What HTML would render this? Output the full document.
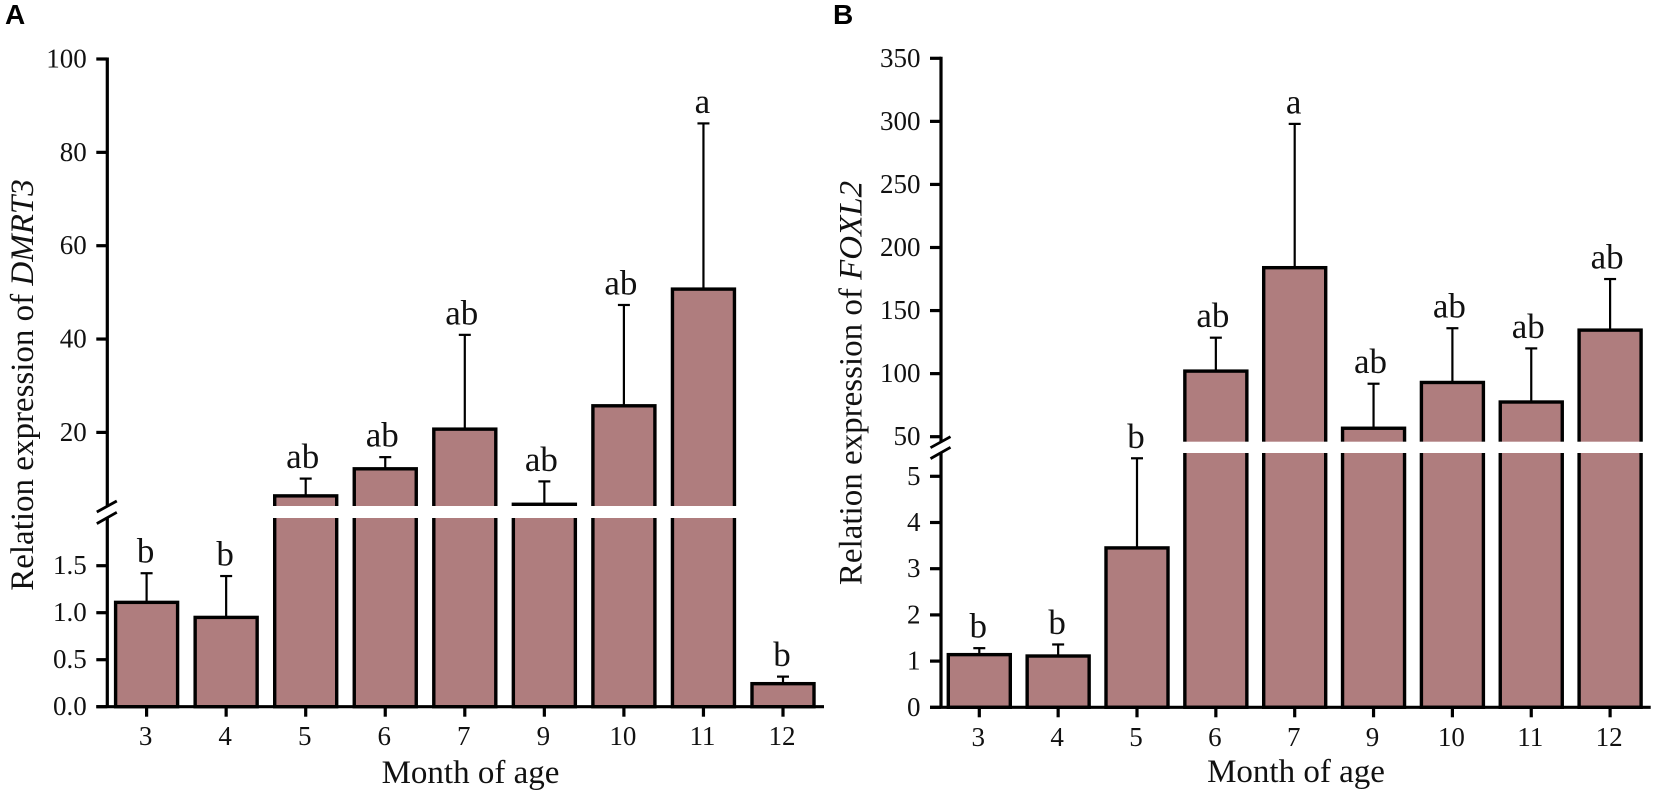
<!DOCTYPE html>
<html lang="en">
<head>
<meta charset="utf-8">
<title>Relative expression of DMRT3 and FOXL2 by month of age</title>
<style>
  html, body { margin: 0; padding: 0; background: #fff; }
  body { width: 1654px; height: 794px; overflow: hidden; }
  svg { display: block; filter: blur(0.35px); }
  text { font-family: "Liberation Serif", serif; fill: #111; }
  .panel-letter { font-family: "Liberation Sans", sans-serif; font-weight: 700; font-size: 28px; fill: #000; }
  .tick { font-size: 27px; }
  .title { font-size: 33px; }
  .sig { font-size: 35px; text-anchor: middle; }
</style>
</head>
<body>
<svg id="figure" xmlns="http://www.w3.org/2000/svg" width="1654" height="794" viewBox="0 0 1654 794">
  <rect width="1654" height="794" fill="#fff"/>
  <text class="panel-letter" x="5" y="24">A</text>
  <text class="panel-letter" x="833" y="24">B</text>
  <text class="title" transform="translate(33 385) rotate(-90)" text-anchor="middle">Relation expression of <tspan font-style="italic">DMRT3</tspan></text>
  <text class="title" transform="translate(861.7 383) rotate(-90)" text-anchor="middle">Relation expression of <tspan font-style="italic">FOXL2</tspan></text>
  <text class="title" x="470.5" y="783" text-anchor="middle">Month of age</text>
  <text class="title" x="1296" y="782" text-anchor="middle">Month of age</text>
</svg>
<script>
// Panel A data (DMRT3)
const monthsA = ["3", "4", "5", "6", "7", "9", "10", "11", "12"];
const valuesA = [1.11, 0.95, 6.4, 12.2, 20.7, 4.6, 25.7, 50.7, 0.245];
const errorTopsA = [1.42, 1.39, 10.1, 14.7, 40.9, 9.5, 47.3, 86.2, 0.32];
const lettersA = ["b", "b", "ab", "ab", "ab", "ab", "ab", "a", "b"];
const lowerTicksA = ["0.0", "0.5", "1.0", "1.5"];
const upperTicksA = ["20", "40", "60", "80", "100"];

// Panel B data (FOXL2)
const monthsB = ["3", "4", "5", "6", "7", "9", "10", "11", "12"];
const valuesB = [1.14, 1.11, 3.45, 102, 184, 56.7, 93, 77.5, 134.5];
const errorTopsB = [1.28, 1.36, 5.39, 128.5, 298, 92, 136, 120, 175];
const lettersB = ["b", "b", "b", "ab", "a", "ab", "ab", "ab", "ab"];
const lowerTicksB = ["0", "1", "2", "3", "4", "5"];
const upperTicksB = ["50", "100", "150", "200", "250", "300", "350"];

const SVG_NS = "http://www.w3.org/2000/svg";
const figure = document.getElementById("figure");
const BAR_FILL = "#af7d7e";
const INK = "#000";

function make(tag, attrs, parent) {
  const el = document.createElementNS(SVG_NS, tag);
  for (const key in attrs) el.setAttribute(key, attrs[key]);
  parent.appendChild(el);
  return el;
}

function drawPanel(p) {
  const group = make("g", {}, figure);
  
  

  // piecewise y axis functions
  const lowerY = v => p.y0 - (v - p.lowerRef[0]) * (p.y0 - p.lowerRef[2]) / (p.lowerRef[1] - p.lowerRef[0]);
  const upperY = v => p.upperPx[0] + (v - p.upperRef[0]) * (p.upperPx[1] - p.upperPx[0]) / (p.upperRef[1] - p.upperRef[0]);
  const yScale = v => (v <= p.lowerMax ? lowerY(v) : upperY(v));
  const xScale = i => p.x0 + i * p.step;

  // bars and error bars
  p.months.forEach((month, i) => {
    const cx = xScale(i);
    const top = yScale(p.values[i]);
    const capY = yScale(p.errorTops[i]);

    const stem = make("line", { x1: cx, x2: cx, y1: top, y2: capY, stroke: INK, "stroke-width": 2.2 }, group);
    
    

    const cap = make("line", { x1: cx - 6, x2: cx + 6, y1: capY, y2: capY, stroke: INK, "stroke-width": 2.2 }, group);
    
    

    const bar = make("rect", { x: cx - 31, y: top, width: 62, height: p.y0 - top, fill: BAR_FILL, stroke: INK, "stroke-width": 3.4 }, group);
    
    
  });

  // white band marking the axis break
  const band = make("rect", { x: p.axisX + 2, y: p.bandTop, width: p.xEnd - p.axisX, height: p.bandBottom - p.bandTop, fill: "#fff" }, group);
  
  

  // significance letters sit above the band
  p.months.forEach((month, i) => {
    const capY = yScale(p.errorTops[i]);
    const letter = make("text", { class: "sig", x: xScale(i) - (p.letters[i] === "ab" ? 3 : 1), y: capY - 10.5 }, group);
    letter.textContent = p.letters[i];
    
    
  });

  // y axis segments
  const upperAxis = make("line", { x1: p.axisX, x2: p.axisX, y1: p.bandTop, y2: upperY(p.upperMax) - 1.5, stroke: INK, "stroke-width": 3.2 }, group);
  
  

  const lowerAxis = make("line", { x1: p.axisX, x2: p.axisX, y1: p.bandBottom, y2: p.y0, stroke: INK, "stroke-width": 3.2 }, group);
  
  

  // break slashes
  [[p.bandTop + 6, p.bandTop - 5], [p.bandBottom + 5.6, p.bandBottom - 5.7]].forEach(pair => {
    const slash = make("line", { x1: p.axisX - 10.5, x2: p.axisX + 9.5, y1: pair[0], y2: pair[1], stroke: INK, "stroke-width": 2.8 }, group);
    
    
  });

  // y ticks and labels
  const allTicks = p.lowerTicks.map(t => [t, lowerY(parseFloat(t))]).concat(p.upperTicks.map(t => [t, upperY(parseFloat(t))]));
  allTicks.forEach(([label, y]) => {
    const tick = make("line", { x1: p.axisX - 11, x2: p.axisX, y1: y, y2: y, stroke: INK, "stroke-width": 3.2 }, group);
    
    

    const text = make("text", { class: "tick", x: p.axisX - 20.5, y: y + 8.5, "text-anchor": "end" }, group);
    text.textContent = label;
    
    
  });

  // x axis
  const xAxis = make("line", { x1: p.axisX - 11, x2: p.xEnd, y1: p.y0, y2: p.y0, stroke: INK, "stroke-width": 3.2 }, group);
  
  

  p.months.forEach((month, i) => {
    const cx = xScale(i);
    const tick = make("line", { x1: cx, x2: cx, y1: p.y0, y2: p.y0 + 10, stroke: INK, "stroke-width": 3.2 }, group);
    
    

    const text = make("text", { class: "tick", x: cx - 1, y: p.y0 + 38.5, "text-anchor": "middle" }, group);
    text.textContent = month;
    
    
  });
}

drawPanel({
  id: "panel-a", months: monthsA, values: valuesA, errorTops: errorTopsA, letters: lettersA,
  lowerTicks: lowerTicksA, upperTicks: upperTicksA,
  axisX: 107.3, xEnd: 824, x0: 146.6, step: 79.55, y0: 706.7,
  lowerRef: [0, 1.5, 565.7], lowerMax: 2.01,
  upperRef: [20, 100], upperPx: [432.4, 59], upperMax: 100,
  bandTop: 506, bandBottom: 518
});

drawPanel({
  id: "panel-b", months: monthsB, values: valuesB, errorTops: errorTopsB, letters: lettersB,
  lowerTicks: lowerTicksB, upperTicks: upperTicksB,
  axisX: 941, xEnd: 1650.7, x0: 979.3, step: 78.85, y0: 707.3,
  lowerRef: [0, 5, 476.3], lowerMax: 5.5,
  upperRef: [50, 350], upperPx: [436.7, 58.3], upperMax: 350,
  bandTop: 441.7, bandBottom: 453
});
</script>
</body>
</html>
